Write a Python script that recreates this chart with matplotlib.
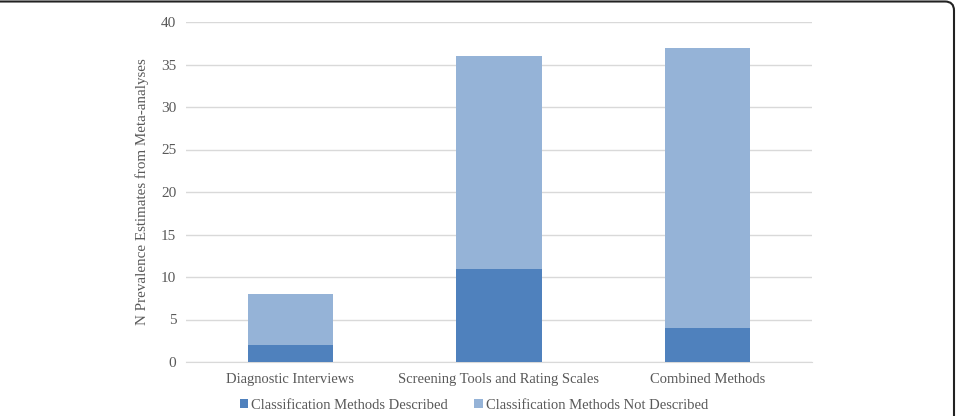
import numpy as np
import matplotlib
matplotlib.use("Agg")
import matplotlib.pyplot as plt
from matplotlib.patches import FancyBboxPatch
from matplotlib.transforms import IdentityTransform

categories = ["Diagnostic Interviews", "Screening Tools and Rating Scales", "Combined Methods"]
described = [2, 11, 4]
not_described = [6, 25, 33]
series_labels = ["Classification Methods Described", "Classification Methods Not Described"]

plt.rcParams['font.family'] = ['Liberation Serif', 'DejaVu Serif']

fig = plt.figure(figsize=(9.57, 4.16), dpi=100)
ax = fig.add_axes([186 / 957, 1 - 362 / 416, (812 - 186) / 957, (362 - 22) / 416])

x = np.arange(len(categories))
width = 0.41
ax.bar(x, described, width, color='#4f81bd', label=series_labels[0], zorder=3)
ax.bar(x, not_described, width, bottom=described, color='#95b3d7',
       label=series_labels[1], zorder=3)

ax.set_xlim(-0.5, len(categories) - 0.5)
ax.set_ylim(0, 40)
ax.set_yticks(np.arange(0, 41, 5))
ax.set_xticks(x)
ax.set_xticklabels(categories)
ax.yaxis.grid(True, color='#d9d9d9', linewidth=1.0, zorder=0)
ax.tick_params(axis='both', length=0, colors='#595959')
ax.tick_params(axis='y', pad=7, labelsize=11)
ax.tick_params(axis='x', pad=8, labelsize=10.5)
for s in ['top', 'right', 'left']:
    ax.spines[s].set_visible(False)
ax.spines['bottom'].set_color('#d9d9d9')
ax.set_ylabel('N Prevalence Estimates from Meta-analyses', fontsize=10.8,
              color='#595959', labelpad=9)

ax.legend(loc='center', bbox_to_anchor=(0.46, -0.127), ncol=2, frameon=False,
          fontsize=10.5, labelcolor='#595959', handlelength=0.6, handleheight=0.6,
          handletextpad=0.2, columnspacing=1.8)

# rounded frame around the figure (left and bottom edges fall outside)
frame = FancyBboxPatch((-20, -20), 974, 434.5,
                       boxstyle="round,pad=0,rounding_size=9",
                       transform=IdentityTransform(), fill=False,
                       edgecolor='#222222', linewidth=1.5)
fig.patches.append(frame)

fig.savefig('out.png', dpi=100)
